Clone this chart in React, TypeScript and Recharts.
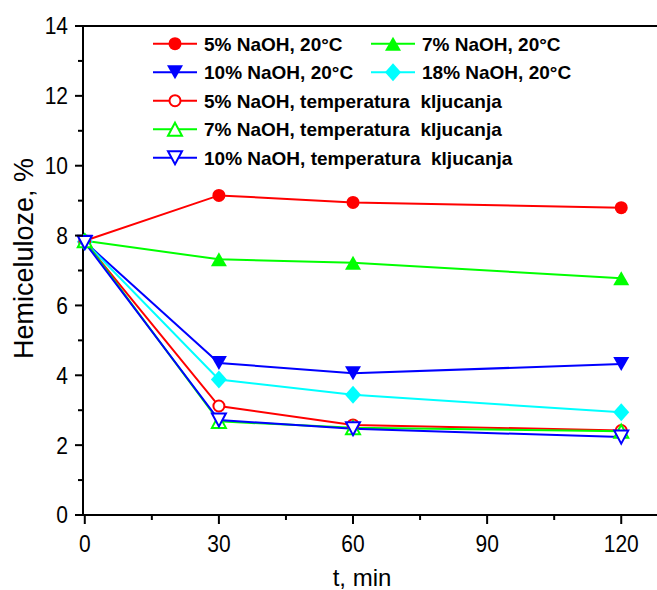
import { LineChart, Line, XAxis, YAxis, ReferenceLine, Legend } from 'recharts';

// time points (min)
const times = [0, 30, 60, 120];

// hemicellulose content, %
const naoh5At20 = [7.85, 9.15, 8.95, 8.8];
const naoh7At20 = [7.85, 7.32, 7.22, 6.78];
const naoh10At20 = [7.82, 4.35, 4.06, 4.32];
const naoh18At20 = [7.82, 3.88, 3.44, 2.94];
const naoh5Boil = [7.82, 3.12, 2.58, 2.42];
const naoh7Boil = [7.85, 2.68, 2.5, 2.4];
const naoh10Boil = [7.8, 2.72, 2.47, 2.23];

const xTicks = [0, 15, 30, 45, 60, 75, 90, 105, 120];
const yTicks = [0, 1, 2, 3, 4, 5, 6, 7, 8, 9, 10, 11, 12, 13, 14];

const FONT = '"Liberation Sans", Arial, sans-serif';

type MarkerKind = 'circle' | 'triangle' | 'triangleDown' | 'diamond';

interface SeriesDef {
  key: string;
  name: string;
  color: string;
  marker: MarkerKind;
  filled: boolean;
  values: number[];
}

const series: SeriesDef[] = [
  { key: 's5', name: '5% NaOH, 20°C', color: '#ff0000', marker: 'circle', filled: true, values: naoh5At20 },
  { key: 's7', name: '7% NaOH, 20°C', color: '#00ff00', marker: 'triangle', filled: true, values: naoh7At20 },
  { key: 's10', name: '10% NaOH, 20°C', color: '#0000ff', marker: 'triangleDown', filled: true, values: naoh10At20 },
  { key: 's18', name: '18% NaOH, 20°C', color: '#00ffff', marker: 'diamond', filled: true, values: naoh18At20 },
  { key: 'b5', name: '5% NaOH, temperatura  kljucanja', color: '#ff0000', marker: 'circle', filled: false, values: naoh5Boil },
  { key: 'b7', name: '7% NaOH, temperatura  kljucanja', color: '#00ff00', marker: 'triangle', filled: false, values: naoh7Boil },
  { key: 'b10', name: '10% NaOH, temperatura  kljucanja', color: '#0000ff', marker: 'triangleDown', filled: false, values: naoh10Boil },
];

const data = times.map((t, i) => {
  const row: Record<string, number> = { t };
  series.forEach((s) => {
    row[s.key] = s.values[i];
  });
  return row;
});

function Marker({ kind, filled, color, cx, cy }: { kind: MarkerKind; filled: boolean; color: string; cx: number; cy: number }) {
  const fill = filled ? color : '#ffffff';
  const sw = filled ? 0 : 2;
  if (kind === 'circle') {
    return <circle cx={cx} cy={cy} r={filled ? 6.5 : 5.5} fill={fill} stroke={color} strokeWidth={sw} />;
  }
  if (kind === 'diamond') {
    const pts = `${cx},${cy - 9} ${cx + 8},${cy} ${cx},${cy + 9} ${cx - 8},${cy}`;
    return <polygon points={pts} fill={fill} stroke={color} strokeWidth={sw} />;
  }
  const w = filled ? 8 : 7;
  const h = filled ? 7 : 6.5;
  const pts =
    kind === 'triangle'
      ? `${cx},${cy - h} ${cx + w},${cy + h} ${cx - w},${cy + h}`
      : `${cx},${cy + h} ${cx + w},${cy - h} ${cx - w},${cy - h}`;
  return <polygon points={pts} fill={fill} stroke={color} strokeWidth={sw} strokeLinejoin="miter" />;
}

const Y_TICK = 8;
const X_TICK = 9;

function YTick(props: any) {
  const { x, y, payload } = props;
  const v = payload.value as number;
  const major = v % 2 === 0;
  const ax = x + Y_TICK;
  return (
    <g>
      <line x1={ax - (major ? 8 : 5)} x2={ax} y1={y} y2={y} stroke="#000" strokeWidth={2} />
      {major && (
        <g transform={`translate(${x - 7} ${y}) scale(1 1.12)`}>
          <text x={0} y={7.5} textAnchor="end" fontSize={21} fontFamily={FONT} fill="#000">
            {v}
          </text>
        </g>
      )}
    </g>
  );
}

function XTick(props: any) {
  const { x, y, payload } = props;
  const v = payload.value as number;
  const major = v % 30 === 0;
  const ay = y - X_TICK;
  return (
    <g>
      <line x1={x} x2={x} y1={ay} y2={ay + (major ? 9 : 5)} stroke="#000" strokeWidth={2} />
      {major && (
        <g transform={`translate(${x} ${ay + 36.5}) scale(1 1.12)`}>
          <text x={0} y={0} textAnchor="middle" fontSize={21} fontFamily={FONT} fill="#000">
            {v}
          </text>
        </g>
      )}
    </g>
  );
}

// legend slots: [column, row]
const legendSlots = [
  [0, 0],
  [1, 0],
  [0, 1],
  [1, 1],
  [0, 2],
  [0, 3],
  [0, 4],
];

function LegendBox() {
  const colX = [3, 221];
  return (
    <svg width={420} height={145} style={{ display: 'block', overflow: 'visible' }}>
      {series.map((s, i) => {
        const [c, r] = legendSlots[i];
        const lx = colX[c];
        const ry = 15.7 + r * 28.5;
        return (
          <g key={s.key}>
            <line x1={lx} x2={lx + 44} y1={ry} y2={ry} stroke={s.color} strokeWidth={2} />
            <Marker kind={s.marker} filled={s.filled} color={s.color} cx={lx + 22} cy={ry} />
            <text
              x={lx + 51}
              y={ry + 6.8}
              fontSize={19}
              fontWeight="bold"
              fontFamily={FONT}
              fill="#000"
              style={{ whiteSpace: 'pre' }}
            >
              {s.name}
            </text>
          </g>
        );
      })}
    </svg>
  );
}

export default function App() {
  return (
    <div style={{ position: 'absolute', left: 0, top: 0, width: 657, height: 590, background: '#fff' }}>
      <LineChart width={657} height={590} data={data} margin={{ top: 26, right: 0, left: 0, bottom: 0 }}>
        <XAxis
          dataKey="t"
          type="number"
          domain={[-0.4, 128]}
          ticks={xTicks}
          interval={0}
          height={75}
          tickSize={X_TICK}
          tickMargin={0}
          tickLine={false}
          tick={<XTick />}
          axisLine={{ stroke: '#000', strokeWidth: 2 }}
          label={{
            content: (p: any) => {
              const vb = p.viewBox;
              return (
                <text
                  x={vb.x + vb.width / 2 - 8}
                  y={vb.y + vb.height - 4}
                  textAnchor="middle"
                  fontSize={24}
                  fontFamily={FONT}
                  fill="#000"
                >
                  t, min
                </text>
              );
            },
          }}
        />
        <YAxis
          type="number"
          domain={[0, 14]}
          ticks={yTicks}
          interval={0}
          width={83}
          tickSize={Y_TICK}
          tickMargin={0}
          tickLine={false}
          tick={<YTick />}
          axisLine={{ stroke: '#000', strokeWidth: 2 }}
          label={{
            content: (p: any) => {
              const vb = p.viewBox;
              const cx = vb.x + 33;
              const cy = vb.y + vb.height / 2 - 12;
              return (
                <text
                  x={cx}
                  y={cy}
                  transform={`rotate(-90 ${cx} ${cy})`}
                  textAnchor="middle"
                  fontSize={27}
                  fontFamily={FONT}
                  fill="#000"
                >
                  Hemiceluloze, %
                </text>
              );
            },
          }}
        />
        <ReferenceLine y={14} stroke="#000" strokeWidth={2} />
        <Legend
          layout="vertical"
          align="center"
          verticalAlign="middle"
          wrapperStyle={{ left: 150, top: 28, width: 420, height: 145 }}
          content={() => <LegendBox />}
        />
        {series.map((s) => (
          <Line
            key={s.key}
            dataKey={s.key}
            name={s.name}
            type="linear"
            stroke={s.color}
            strokeWidth={2}
            isAnimationActive={false}
            dot={(p: any) => (
              <Marker key={`${s.key}-${p.index}`} kind={s.marker} filled={s.filled} color={s.color} cx={p.cx} cy={p.cy} />
            )}
            activeDot={false}
          />
        ))}
      </LineChart>
    </div>
  );
}
